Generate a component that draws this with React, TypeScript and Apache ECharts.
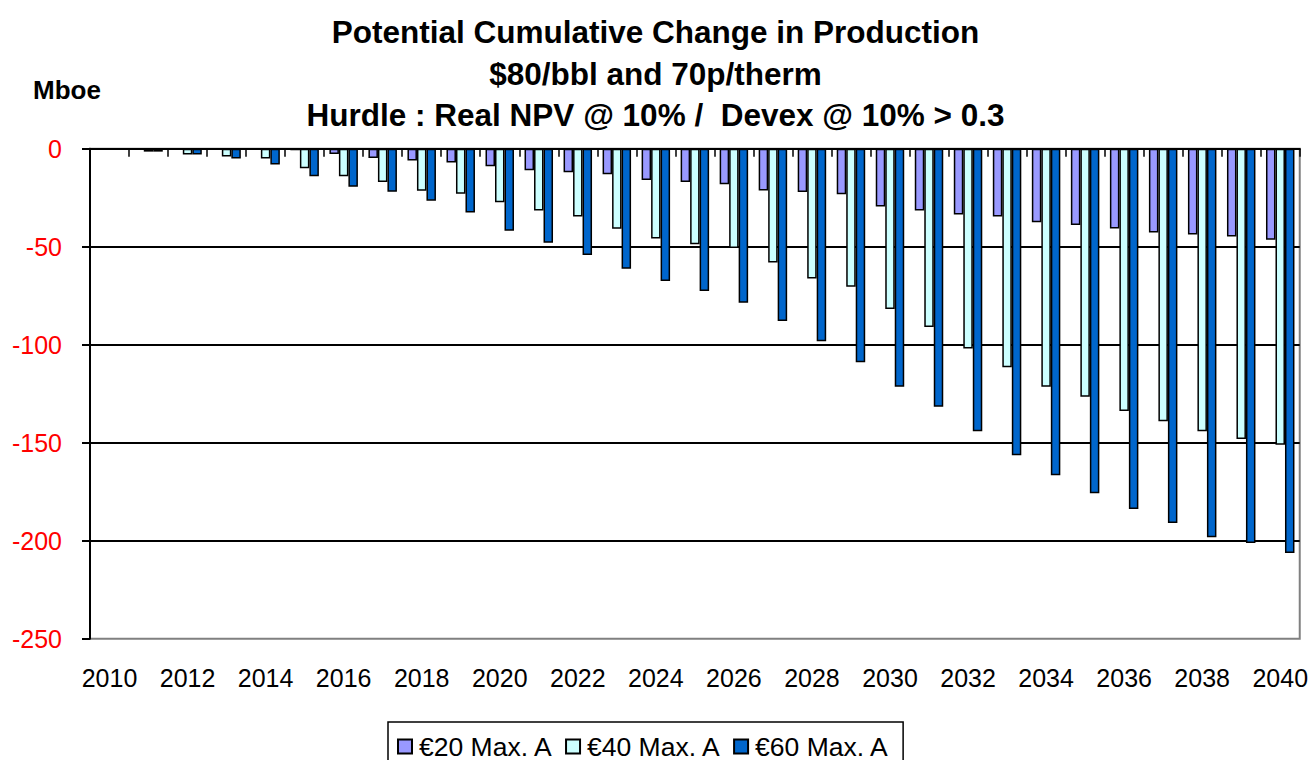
import React, { useEffect, useRef } from "react";
import * as echarts from "echarts";

const years = [
  "2010", "2011", "2012", "2013", "2014", "2015", "2016", "2017", "2018", "2019",
  "2020", "2021", "2022", "2023", "2024", "2025", "2026", "2027", "2028", "2029",
  "2030", "2031", "2032", "2033", "2034", "2035", "2036", "2037", "2038", "2039", "2040",
];

const euro20 = [
  0, 0, 0, 0, 0, -0.8, -2.7, -4.8, -6, -7,
  -9, -11, -12, -13, -16, -17, -18.2, -21.3, -22.1, -23.2,
  -29.5, -31.5, -33.6, -34.6, -37.5, -38.9, -40.7, -42.8, -43.8, -44.8, -46.5,
];

const euro40 = [
  0, -1.5, -3, -4, -5, -10, -14, -17, -21.5, -23,
  -27.3, -31.5, -34.6, -40.9, -45.8, -48.7, -50.7, -58, -66.2, -70.4,
  -81.8, -91, -102, -111.5, -121.5, -126.5, -133.8, -139, -144.2, -148.1, -151.1,
];

const euro60 = [
  0, -1.5, -3, -5, -8, -14, -19.4, -22, -26.5, -32.5,
  -41.8, -48, -54.2, -61.2, -67.5, -72.6, -78.6, -87.9, -98.2, -109,
  -121.4, -131.7, -144.1, -156.4, -166.6, -175.8, -183.8, -191, -198.2, -201.2, -206.3,
];

const seriesNames = ["€20 Max. A", "€40 Max. A", "€60 Max. A"];
const seriesColors = ["#9999FF", "#CCFFFF", "#0066CC"];

const titleLines = [
  "Potential Cumulative Change in Production",
  "$80/bbl and 70p/therm",
  "Hurdle : Real NPV @ 10% /  Devex @ 10% > 0.3",
];

const FONT = "'Liberation Sans', Arial, Helvetica, sans-serif";

export default function App() {
  const ref = useRef<HTMLDivElement>(null);

  useEffect(() => {
    if (!ref.current) return;
    const chart = echarts.init(ref.current, null, { renderer: "svg" });
    const values = [euro20, euro40, euro60];
    const titleY = [31, 73, 114];

    chart.setOption({
      animation: false,
      backgroundColor: "#ffffff",
      textStyle: { fontFamily: FONT },
      grid: {
        left: 90,
        right: 9,
        top: 148.7,
        bottom: 121.3,
        show: true,
        borderColor: "#808080",
        borderWidth: 2,
        backgroundColor: "transparent",
      },
      graphic: [
        ...titleLines.map((t, i) => ({
          type: "text",
          left: "center",
          top: titleY[i] - 15,
          style: {
            text: t,
            fontFamily: FONT,
            fontWeight: "bold",
            fontSize: 31.5,
            fill: "#000000",
          },
        })),
        {
          type: "text",
          left: 33,
          top: 92 - 15,
          style: {
            text: "Mboe",
            fontFamily: FONT,
            fontWeight: "bold",
            fontSize: 26,
            fill: "#000000",
          },
        },
      ],
      legend: {
        data: seriesNames,
        left: 388,
        top: 722,
        orient: "horizontal",
        icon: "rect",
        itemWidth: 14,
        itemHeight: 14,
        itemGap: 12,
        padding: [11, 14, 13, 9],
        borderColor: "#000000",
        borderWidth: 1.5,
        textStyle: { fontFamily: FONT, fontSize: 26.5, color: "#000000", padding: [0, 0, 0, 2] },
      },
      xAxis: [
        {
          type: "category",
          data: years,
          position: "bottom",
          axisLine: { show: false, onZero: false },
          axisTick: { show: false },
          axisLabel: {
            interval: 1,
            fontSize: 25,
            color: "#000000",
            fontFamily: FONT,
            margin: 27,
          },
          splitLine: { show: false },
        },
        {
          type: "category",
          data: years,
          position: "top",
          axisLine: { show: true, onZero: false, lineStyle: { color: "#000000", width: 2 } },
          axisTick: { show: true, inside: true, length: 8, lineStyle: { color: "#000000", width: 1.5 } },
          axisLabel: { show: false },
          splitLine: { show: false },
        },
      ],
      yAxis: {
        type: "value",
        min: -250,
        max: 0,
        interval: 50,
        axisLine: { show: true, lineStyle: { color: "#000000", width: 2 } },
        axisTick: { show: true, length: 8, lineStyle: { color: "#000000", width: 2 } },
        axisLabel: {
          fontSize: 25,
          color: "#FF0000",
          fontFamily: FONT,
          margin: 28,
        },
        splitLine: {
          show: true,
          showMinLine: false,
          lineStyle: { color: "#000000", width: 2 },
        },
      },
      series: values.map((v, i) => ({
        name: seriesNames[i],
        type: "bar",
        xAxisIndex: 0,
        data: v,
        barGap: "0%",
        barCategoryGap: "27%",
        itemStyle: {
          color: seriesColors[i],
          borderColor: "#000000",
          borderWidth: 1.5,
        },
      })),
    });

    return () => chart.dispose();
  }, []);

  return (
    <div
      ref={ref}
      style={{ position: "fixed", left: 0, top: 0, width: 1311, height: 760 }}
    />
  );
}
